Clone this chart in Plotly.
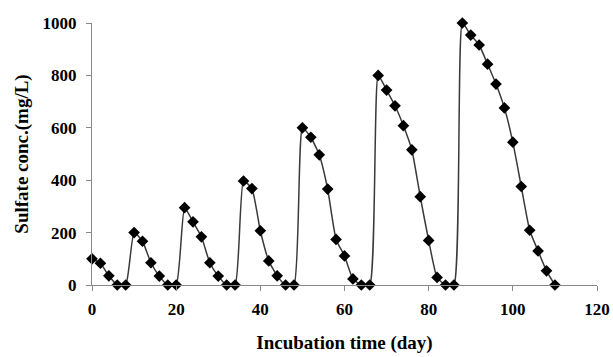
import plotly.graph_objects as go

days = list(range(0, 112, 2))
sulfate = [100, 83, 35, 0, 0,
           200, 167, 85, 34, 0, 0,
           295, 241, 184, 85, 34, 0, 0,
           397, 368, 207, 92, 35, 0, 0,
           600, 564, 497, 366, 174, 111, 23, 0, 0,
           800, 744, 684, 608, 516, 337, 170, 29, 0, 0,
           1000, 954, 916, 843, 767, 676, 545, 376, 209, 130, 54, 0]

x_ticks = [0, 20, 40, 60, 80, 100, 120]
y_ticks = [0, 200, 400, 600, 800, 1000]

font_serif = "Liberation Serif"

fig = go.Figure()
fig.add_trace(go.Scatter(
    x=days, y=sulfate, mode="lines+markers",
    line=dict(color="#3a3a3a", width=1.5, shape="spline", smoothing=0.5),
    marker=dict(symbol="diamond", size=9, color="black"),
    cliponaxis=False, showlegend=False,
))

axis_common = dict(
    showgrid=False, zeroline=False, showline=True, linecolor="#888888", linewidth=1.2,
    ticks="outside", ticklen=5, tickcolor="#888888", tickwidth=1.2, automargin=False,
    tickfont=dict(family=font_serif, size=17, color="black", weight="bold"),
)

fig.update_layout(
    width=613, height=357,
    margin=dict(l=92, r=16, t=23, b=72),
    paper_bgcolor="white", plot_bgcolor="white",
    xaxis=dict(range=[0, 120], tickvals=x_ticks, **axis_common, ticklabelstandoff=3,
               title=dict(text="Incubation time (day)", standoff=18,
                          font=dict(family=font_serif, size=19, color="black", weight="bold"))),
    yaxis=dict(range=[0, 1000], tickvals=y_ticks, **axis_common, ticklabelstandoff=6,
               title=dict(text="Sulfate conc.(mg/L)", standoff=8,
                          font=dict(family=font_serif, size=19, color="black", weight="bold"))),
)

fig.write_html("out.html", config={"displayModeBar": False},
               post_script="document.body.style.margin='0';document.body.style.overflow='hidden';")
